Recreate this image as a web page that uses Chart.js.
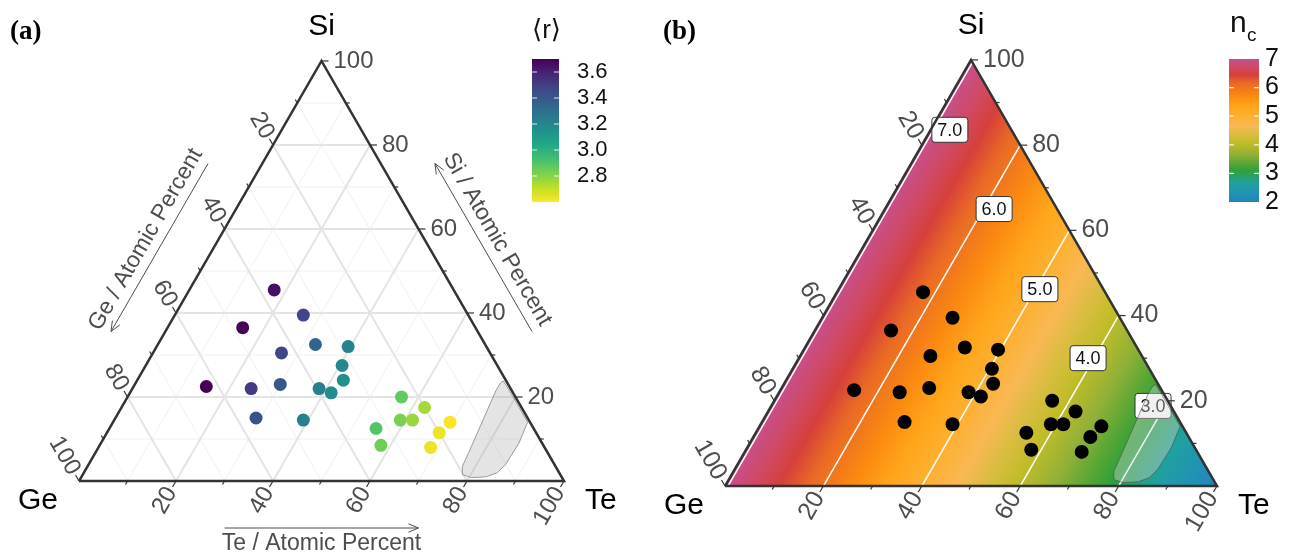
<!DOCTYPE html>
<html>
<head>
<meta charset="utf-8">
<script src="https://cdn.jsdelivr.net/npm/chart.js@4.4.1/dist/chart.umd.min.js"></script>
<style>
  body { margin: 0; background: #fff; }
  #wrap { position: relative; width: 1293px; height: 555px; }
  canvas { position: absolute; top: 0; }
</style>
</head>
<body>
<div id="wrap">
  <canvas id="ternA" width="646" height="555" style="left:0"></canvas>
  <canvas id="ternB" width="647" height="555" style="left:646px"></canvas>
</div>
<script>
// compositions of the glasses, atomic percent
const siPct = [45.5, 36.5, 22.5, 39.5, 30.5, 32.5, 32, 22, 23, 27.5, 24, 22, 21, 15, 14.5, 20, 17.5, 14.5, 14.5, 14, 11.5, 12.5, 8.5, 8];
const tePct = [17.5, 15.5, 15, 26.5, 26.5, 32.5, 39.5, 24.5, 30, 40.5, 42.5, 38.5, 41.5, 29, 39, 56.5, 62.5, 59, 61.5, 69.5, 68.5, 55, 58, 68.5];
const gePct = [37, 48, 62.5, 34, 43, 35, 28.5, 53.5, 47, 32, 33.5, 39.5, 37.5, 56, 46.5, 23.5, 20, 26.5, 24, 16.5, 20, 32.5, 33.5, 23.5];
// mean coordination <r> of each glass (colour in panel a)
const meanR = [3.65, 3.69, 3.70, 3.47, 3.47, 3.35, 3.21, 3.51, 3.40, 3.19, 3.15, 3.23, 3.17, 3.42, 3.22, 2.87, 2.75, 2.82, 2.77, 2.61, 2.63, 2.90, 2.84, 2.63];

// grey region near the Te corner (Si, Te in %)
const shadeSi = [23.8, 22, 18, 14, 9, 4, 2, 1, 0.8, 1.5, 3.5, 6.5, 21.5, 23.3, 23.8];
const shadeTe = [75.6, 77.5, 81.5, 85.5, 86.2, 86, 85.3, 83.5, 80.5, 78.3, 77.3, 77, 75.2, 75.2, 75.6];

// n_c contours in panel b (lines of constant Te) and their label spots
const contourN = [7, 6, 5, 4, 3];
const contourTe = [0.6, 20, 40, 60, 80];
const labelSi = [83.6, 65, 46.2, 30, 18.8];
const labelTe = [3.9, 22.2, 40.9, 58.8, 77.6];

// axes
const cornerNames = ['Si', 'Ge', 'Te'];
const axisTitles = ['Te / Atomic Percent', 'Si / Atomic Percent', 'Ge / Atomic Percent'];
const tickVals = [20, 40, 60, 80, 100];
const gridMajor = [20, 40, 60, 80];
const gridMinor = [10, 30, 50, 70, 90];

// colour bars
const rTicks = [3.6, 3.4, 3.2, 3.0, 2.8];
const rMin = 2.6, rMax = 3.7;
const ncTicks = [7, 6, 5, 4, 3, 2];
const ncTop = 7, ncBottom = 2;
const ncStops = [7.0, 6.75, 6.45, 6.15, 5.7, 5.35, 5.0, 4.65, 4.35, 4.05, 3.65, 3.3, 3.1, 2.65, 2.25, 2.0];
const ncColors = ['#c64f8e', '#cf4a6a', '#d6403a', '#ea6a25', '#fb8a10', '#ffa51a', '#fdb030', '#f9b854',
                  '#d9bd40', '#c0bc28', '#90b038', '#50a535', '#30a03a', '#20a0a0', '#2090b8', '#2383b8'];
const viridisHex = ['#440154', '#482475', '#414487', '#355f8d', '#2a788e', '#21918c', '#22a884', '#44bf70', '#7ad151', '#bddf26', '#fde725'];

const SANS = '"Liberation Sans", Arial, Helvetica, sans-serif';
const S3 = Math.sqrt(3) / 2;

// where the Ge corner sits on each canvas and how long an edge is
const geomA = { gx: 79, gy: 481, side: 485, W: 646, H: 555 };
const geomB = { gx: 79, gy: 486, side: 492, W: 647, H: 555 };

function tern(si, te) { return { x: te + si / 2, y: si * S3 }; }

function scalesFor(g) {
  const k = g.side / 100;
  return {
    x: { type: 'linear', display: false, min: -g.gx / k, max: (g.W - g.gx) / k },
    y: { type: 'linear', display: false, min: (g.gy - g.H) / k, max: g.gy / k }
  };
}

function hexRgb(h) { return [1, 3, 5].map(i => parseInt(h.slice(i, i + 2), 16)); }
function viridis(t) {
  t = Math.min(1, Math.max(0, t));
  const f = t * 10, i = Math.min(9, Math.floor(f)), u = f - i;
  const a = hexRgb(viridisHex[i]), b = hexRgb(viridisHex[i + 1]);
  return 'rgb(' + a.map((c, k) => Math.round(c + (b[k] - c) * u)).join(',') + ')';
}
const rColor = r => viridis((rMax - r) / (rMax - rMin));

function seg(pts, color, width, order) {
  return { data: pts.map(p => tern(p[0], p[1])), showLine: true, borderColor: color, borderWidth: width,
           pointRadius: 0, fill: false, order: order };
}

function px(chart, si, te) {
  const p = tern(si, te);
  return { x: chart.scales.x.getPixelForValue(p.x), y: chart.scales.y.getPixelForValue(p.y) };
}

function drawAxes(chart, font) {
  const ctx = chart.ctx;
  const axes = [
    { at: v => px(chart, 0, v), dir: [-0.5, S3], rot: -Math.PI / 3, align: 'right', gap: 9 },
    { at: v => px(chart, v, 100 - v), dir: [1, 0], rot: 0, align: 'left', gap: 12 },
    { at: v => px(chart, 100 - v, 0), dir: [-0.5, -S3], rot: Math.PI / 3, align: 'right', gap: 9 }
  ];
  ctx.save();
  ctx.strokeStyle = '#333'; ctx.lineWidth = 1.2;
  ctx.fillStyle = '#4d4d4d'; ctx.font = font; ctx.textBaseline = 'middle';
  axes.forEach(a => {
    for (let v = 10; v <= 100; v += 10) {
      const p = a.at(v), len = v % 20 === 0 ? 7 : 4;
      ctx.beginPath(); ctx.moveTo(p.x, p.y); ctx.lineTo(p.x + a.dir[0] * len, p.y + a.dir[1] * len); ctx.stroke();
    }
    tickVals.forEach(v => {
      const p = a.at(v);
      ctx.save();
      ctx.translate(p.x + a.dir[0] * a.gap, p.y + a.dir[1] * a.gap);
      ctx.rotate(a.rot); ctx.textAlign = a.align;
      ctx.fillText(String(v), 0, 0);
      ctx.restore();
    });
  });
  ctx.restore();
}

function drawCorners(chart) {
  const ctx = chart.ctx, si = px(chart, 100, 0), ge = px(chart, 0, 0), te = px(chart, 0, 100);
  ctx.save();
  ctx.fillStyle = '#000'; ctx.font = '30px ' + SANS; ctx.textBaseline = 'middle';
  ctx.textAlign = 'center'; ctx.fillText(cornerNames[0], si.x, si.y - 34);
  ctx.textAlign = 'right'; ctx.fillText(cornerNames[1], ge.x - 21, ge.y + 20);
  ctx.textAlign = 'left'; ctx.fillText(cornerNames[2], te.x + 21, te.y + 20);
  ctx.restore();
}

function lerp(a, b, t) { return { x: a.x + (b.x - a.x) * t, y: a.y + (b.y - a.y) * t }; }

function drawTitles(chart) {
  const ctx = chart.ctx;
  const si = px(chart, 100, 0), ge = px(chart, 0, 0), te = px(chart, 0, 100);
  const defs = [
    { from: ge, to: te, n: [0, 1], rot: 0 },
    { from: te, to: si, n: [S3, -0.5], rot: Math.PI / 3 },
    { from: si, to: ge, n: [-S3, -0.5], rot: -Math.PI / 3 }
  ];
  ctx.save();
  ctx.strokeStyle = '#4d4d4d'; ctx.fillStyle = '#4d4d4d'; ctx.lineWidth = 1;
  ctx.font = '23px ' + SANS; ctx.textAlign = 'center'; ctx.textBaseline = 'middle';
  defs.forEach((d, i) => {
    const a0 = lerp(d.from, d.to, 0.3), b0 = lerp(d.from, d.to, 0.7);
    const a = { x: a0.x + d.n[0] * 47, y: a0.y + d.n[1] * 47 };
    const b = { x: b0.x + d.n[0] * 47, y: b0.y + d.n[1] * 47 };
    const ang = Math.atan2(b.y - a.y, b.x - a.x);
    ctx.beginPath(); ctx.moveTo(a.x, a.y); ctx.lineTo(b.x, b.y);
    ctx.moveTo(b.x - 11 * Math.cos(ang - 0.4), b.y - 11 * Math.sin(ang - 0.4)); ctx.lineTo(b.x, b.y);
    ctx.lineTo(b.x - 11 * Math.cos(ang + 0.4), b.y - 11 * Math.sin(ang + 0.4));
    ctx.stroke();
    const m = lerp(d.from, d.to, 0.5);
    ctx.save();
    ctx.translate(m.x + d.n[0] * 63, m.y + d.n[1] * 63); ctx.rotate(d.rot);
    ctx.fillText(axisTitles[i], 0, 0);
    ctx.restore();
  });
  ctx.restore();
}

function drawTag(ctx, text, x) {
  ctx.save();
  ctx.fillStyle = '#000'; ctx.font = 'bold 27px "Liberation Serif", "Times New Roman", serif';
  ctx.textAlign = 'left'; ctx.textBaseline = 'alphabetic';
  ctx.fillText(text, x, 39);
  ctx.restore();
}

function barTicks(ctx, x0, w, ys) {
  ctx.strokeStyle = 'rgba(255,255,255,0.85)'; ctx.lineWidth = 1.2;
  ys.forEach(y => {
    ctx.beginPath(); ctx.moveTo(x0, y); ctx.lineTo(x0 + 5, y);
    ctx.moveTo(x0 + w - 5, y); ctx.lineTo(x0 + w, y); ctx.stroke();
  });
}

function drawBarA(ctx) {
  const x0 = 532, y0 = 59, w = 27, h = 143;
  ctx.save();
  const g = ctx.createLinearGradient(0, y0, 0, y0 + h);
  viridisHex.forEach((c, i) => g.addColorStop(i / 10, c));
  ctx.fillStyle = g; ctx.fillRect(x0, y0, w, h);
  const ys = rTicks.map(v => y0 + (rMax - v) / (rMax - rMin) * h);
  barTicks(ctx, x0, w, ys);
  ctx.fillStyle = '#111'; ctx.font = '22px ' + SANS; ctx.textAlign = 'left'; ctx.textBaseline = 'middle';
  rTicks.forEach((v, i) => ctx.fillText(v.toFixed(1), x0 + w + 18, ys[i]));
  ctx.font = '26px "Liberation Sans", "DejaVu Sans", sans-serif'; ctx.textBaseline = 'alphabetic';
  ctx.fillText('\u27E8r\u27E9', x0, 38);
  ctx.restore();
}

function drawBarB(ctx) {
  const x0 = 583, y0 = 59, w = 30, h = 143;
  ctx.save();
  const g = ctx.createLinearGradient(0, y0, 0, y0 + h);
  ncStops.forEach((n, i) => g.addColorStop((ncTop - n) / (ncTop - ncBottom), ncColors[i]));
  ctx.fillStyle = g; ctx.fillRect(x0, y0, w, h);
  const ys = ncTicks.map(v => y0 + (ncTop - v) / (ncTop - ncBottom) * h);
  barTicks(ctx, x0, w, ys.slice(1, -1));
  ctx.fillStyle = '#111'; ctx.font = '25px ' + SANS; ctx.textAlign = 'left'; ctx.textBaseline = 'middle';
  ncTicks.forEach((v, i) => ctx.fillText(String(v), x0 + w + 6, ys[i]));
  ctx.textBaseline = 'alphabetic';
  ctx.font = '30px ' + SANS; ctx.fillText('n', x0 + 1, 32);
  ctx.font = '19px ' + SANS; ctx.fillText('c', x0 + 18, 41);
  ctx.restore();
}

function drawContourLabels(chart) {
  const ctx = chart.ctx;
  ctx.save();
  ctx.font = '18px ' + SANS; ctx.textAlign = 'center'; ctx.textBaseline = 'middle';
  contourN.forEach((n, i) => {
    const p = px(chart, labelSi[i], labelTe[i]);
    const t = n.toFixed(1), w = ctx.measureText(t).width + 11, h = 25;
    ctx.beginPath(); ctx.roundRect(p.x - w / 2, p.y - h / 2, w, h, 3);
    ctx.fillStyle = '#fff'; ctx.fill();
    ctx.strokeStyle = '#333'; ctx.lineWidth = 1; ctx.stroke();
    ctx.fillStyle = '#111'; ctx.fillText(t, p.x, p.y + 1);
  });
  ctx.restore();
}

const triangle = [[0, 0], [0, 100], [100, 0], [0, 0]];
const shadePts = shadeSi.map((s, i) => [s, shadeTe[i]]);

// ---------- panel (a) ----------
const dsA = [];
gridMinor.forEach(v => {
  dsA.push(seg([[v, 0], [v, 100 - v]], '#f0f0f0', 1, 7));
  dsA.push(seg([[0, v], [100 - v, v]], '#f0f0f0', 1, 7));
  dsA.push(seg([[100 - v, 0], [0, 100 - v]], '#f0f0f0', 1, 7));
});
gridMajor.forEach(v => {
  dsA.push(seg([[v, 0], [v, 100 - v]], '#e4e4e4', 2, 6));
  dsA.push(seg([[0, v], [100 - v, v]], '#e4e4e4', 2, 6));
  dsA.push(seg([[100 - v, 0], [0, 100 - v]], '#e4e4e4', 2, 6));
});
dsA.push(Object.assign(seg(shadePts, '#9a9a9a', 1, 4), { fill: 'shape', backgroundColor: 'rgba(165,165,165,0.3)' }));
dsA.push(Object.assign(seg(triangle, '#333', 2.5, 3), { borderJoinStyle: 'miter' }));
dsA.push({
  data: siPct.map((s, i) => tern(s, tePct[i])), showLine: false, order: 1,
  pointRadius: 6.5, pointBackgroundColor: meanR.map(rColor), pointBorderWidth: 0, pointBorderColor: 'rgba(0,0,0,0)'
});

const decorA = {
  id: 'decorA',
  afterDraw(chart) {
    drawAxes(chart, '24px ' + SANS);
    drawCorners(chart);
    drawTitles(chart);
    drawBarA(chart.ctx);
    drawTag(chart.ctx, '(a)', 10);
  }
};

new Chart(document.getElementById('ternA'), {
  type: 'line',
  data: { datasets: dsA },
  options: {
    responsive: false, animation: false, events: [],
    layout: { padding: 0, autoPadding: false },
    scales: scalesFor(geomA),
    elements: { line: { tension: 0 } },
    plugins: { legend: { display: false }, tooltip: { enabled: false } }
  },
  plugins: [decorA]
});

// ---------- panel (b) ----------
const contourData = [];
contourTe.forEach(t => contourData.push(tern(0, t), tern(100 - t, t), { x: null, y: null }));

const dsB = [];
dsB.push(Object.assign(seg(triangle, 'rgba(0,0,0,0)', 0, 7), {
  fill: 'shape',
  backgroundColor: c => {
    const ch = c.chart;
    if (!ch.chartArea) return 'rgba(0,0,0,0)';
    const p0 = px(ch, 50, 0), p1 = px(ch, 0, 100);
    const g = ch.ctx.createLinearGradient(p0.x, p0.y, p1.x, p1.y);
    ncStops.forEach((n, i) => g.addColorStop((ncTop - n) / (ncTop - ncBottom), ncColors[i]));
    return g;
  }
}));
dsB.push({ label: 'contours', data: contourData, showLine: true, spanGaps: false, borderColor: '#fff',
           borderWidth: 1.5, pointRadius: 0, fill: false, order: 5 });
dsB.push(Object.assign(seg(shadePts, 'rgba(70,70,70,0.55)', 1, 4), { fill: 'shape', backgroundColor: 'rgba(215,215,215,0.38)' }));
dsB.push(Object.assign(seg(triangle, '#333', 2.5, 3), { borderJoinStyle: 'miter' }));
dsB.push({
  data: siPct.map((s, i) => tern(s, tePct[i])), showLine: false, order: 1,
  pointRadius: 7, pointBackgroundColor: '#000', pointBorderWidth: 0, pointBorderColor: 'rgba(0,0,0,0)'
});

const decorB = {
  id: 'decorB',
  afterDatasetDraw(chart, args) {
    if (chart.data.datasets[args.index].label === 'contours') drawContourLabels(chart);
  },
  afterDraw(chart) {
    drawAxes(chart, '25px ' + SANS);
    drawCorners(chart);
    drawBarB(chart.ctx);
    drawTag(chart.ctx, '(b)', 17);
  }
};

new Chart(document.getElementById('ternB'), {
  type: 'line',
  data: { datasets: dsB },
  options: {
    responsive: false, animation: false, events: [],
    layout: { padding: 0, autoPadding: false },
    scales: scalesFor(geomB),
    elements: { line: { tension: 0 } },
    plugins: { legend: { display: false }, tooltip: { enabled: false } }
  },
  plugins: [decorB]
});
</script>
</body>
</html>
